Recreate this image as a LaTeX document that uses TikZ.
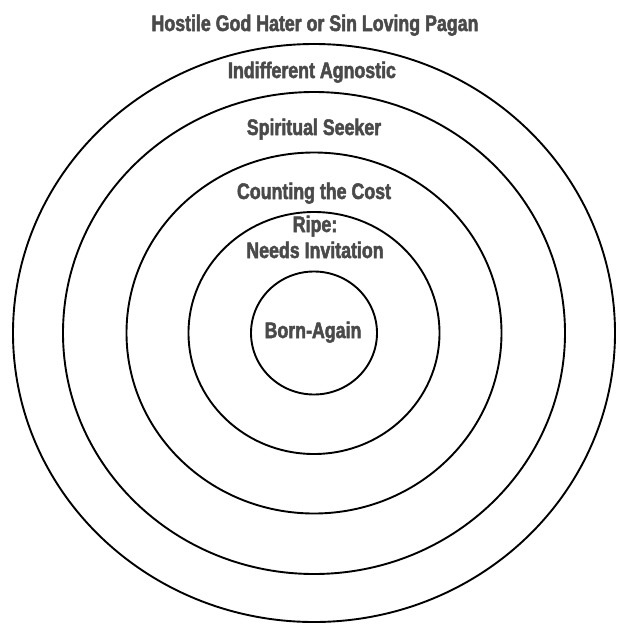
\documentclass[tikz,border=0pt]{standalone}
\usepackage{fontspec}
\newfontfamily\labfont[FakeStretch=0.79,FakeBold=2.2]{Liberation Sans Bold}
\definecolor{labgray}{HTML}{4A4A4A}
\tikzset{
  ring/.style={draw=black, line width=1.9pt},
  lab/.style={font=\labfont\fontsize{22.5}{26}\selectfont, text=labgray, anchor=base, inner sep=0pt}
}
\begin{document}
\begin{tikzpicture}[x=1pt,y=-1pt]
\useasboundingbox (0,0) rectangle (616,624);
\coordinate (c) at (314,333);
\draw[ring] (c) ellipse [x radius=301pt, y radius=289pt];
\draw[ring] (c) ellipse [x radius=251pt, y radius=241pt];
\draw[ring] (c) ellipse [x radius=187.5pt, y radius=180.5pt];
\draw[ring] (c) ellipse [x radius=125.5pt, y radius=121pt];
\draw[ring] (c) ellipse [x radius=63pt, y radius=61.5pt];
\node[lab] (t1) at (315,31) {Hostile God Hater or Sin Loving Pagan};
\node[lab] (t2) at (312,78) {Indifferent Agnostic};
\node[lab] (t3) at (314,135) {Spiritual Seeker};
\node[lab] (t4) at (314,199) {Counting the Cost};
\node[lab] (t5) at (315,232) {Ripe:};
\node[lab] (t6) at (315,258) {Needs Invitation};
\node[lab] (t7) at (313,338) {Born-Again};
\end{tikzpicture}
\end{document}
